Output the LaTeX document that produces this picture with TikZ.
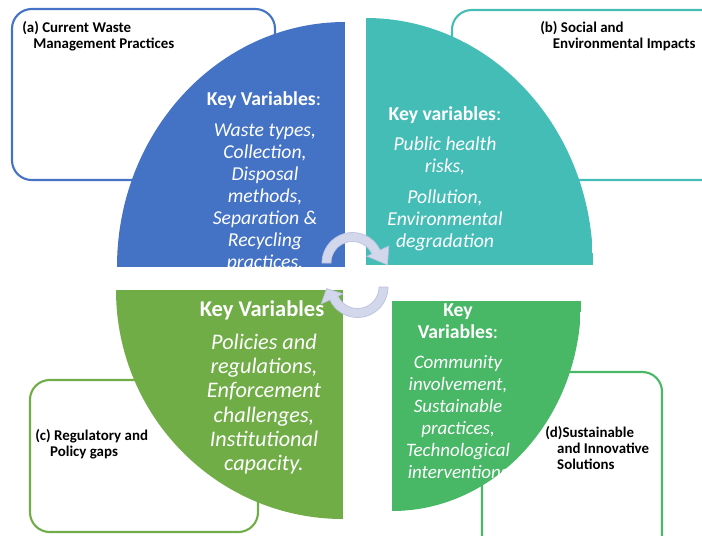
\documentclass[tikz,border=0pt]{standalone}
\usepackage{fontspec}
\setmainfont{Carlito}
\usepackage{tikz}

\definecolor{wasteblue}{HTML}{4472C4}
\definecolor{impactteal}{HTML}{44BDB6}
\definecolor{policygreen}{HTML}{70AD47}
\definecolor{solutiongreen}{HTML}{48B766}
\definecolor{cyclefill}{HTML}{D2D7EC}
\definecolor{cycledraw}{HTML}{BCC3E0}

\begin{document}
\begin{tikzpicture}[x=0.025cm, y=0.025cm,
  frame/.style={line width=1.5pt, rounded corners=14pt},
  keyhead/.style={text=white, font=\fontsize{14}{15.6}\selectfont, align=center, inner sep=0pt},
  keylist/.style={text=white, font=\fontsize{14}{15.6}\selectfont\itshape, align=center, inner sep=0pt},
  tag/.style={font=\fontsize{10.6}{11.2}\selectfont\bfseries, align=left, inner sep=0pt, anchor=west},
  cyclearrow/.style={fill=cyclefill, draw=cycledraw, line width=0.5pt}]
\useasboundingbox (0,0) rectangle (702,-535);

% outline boxes behind the quarters
\draw[frame, wasteblue] (12,-9) rectangle (275,-180);
\draw[frame, impactteal] (452,-10) rectangle (730,-180);
\draw[frame, policygreen] (30,-380) rectangle (258,-532);
\draw[frame, solutiongreen] (482,-372) rectangle (662,-560);

% (a) top left quarter
\begin{scope}
\clip (345,-267) -- (117,-267) arc[start angle=180, end angle=90, x radius=228, y radius=245] -- cycle;
\fill[wasteblue] (117,-22) rectangle (345,-267);
\node[keyhead] (headA) at (264,-100) {\textbf{Key Variables}:};
\node[keylist] (listA) at (265,-198) {Waste types,\\Collection,\\Disposal\\methods,\\Separation \&\\Recycling\\practices.};
\end{scope}

% (b) top right quarter
\begin{scope}
\clip (366,-265) -- (366,-18) arc[start angle=90, end angle=0, x radius=227, y radius=247] -- cycle;
\fill[impactteal] (366,-18) rectangle (593,-265);
\node[keyhead] (headB) at (445,-115) {\textbf{Key variables}:};
\node[keylist] (listB) at (445,-194) {Public health\\risks,\\[6.4pt]Pollution,\\Environmental\\degradation};
\end{scope}

% (c) bottom left quarter
\begin{scope}
\clip (343,-290) -- (343,-519) arc[start angle=270, end angle=180, x radius=227, y radius=229] -- cycle;
\fill[policygreen] (116,-290) rectangle (343,-519);
\node[keyhead, font=\fontsize{16}{17.3}\selectfont] (headC) at (262,-310) {\textbf{Key Variables}};
\node[keylist, font=\fontsize{15.8}{17.3}\selectfont\itshape] (listC) at (264,-404) {Policies and\\regulations,\\Enforcement\\challenges,\\Institutional\\capacity.};
\end{scope}

% (d) bottom right quarter
\begin{scope}
\clip (392,-301) -- (581,-301) arc[start angle=0, end angle=-90, x radius=189, y radius=210] -- cycle;
\fill[solutiongreen] (392,-301) rectangle (581,-511);
\node[keyhead] (headD) at (458,-321) {\textbf{Key}\\\textbf{Variables}:};
\node[keylist, font=\fontsize{13.5}{15.6}\selectfont\itshape] (listD) at (458,-417) {Community\\involvement,\\Sustainable\\practices,\\Technological\\interventions};
\end{scope}

\node[tag] (tagA) at (22,-36) {(a) Current Waste\\\hspace*{7.8pt}Management Practices};
\node[tag] (tagB) at (540,-36) {(b) Social and\\\hspace*{9pt}Environmental Impacts};
\node[tag] (tagC) at (35,-444) {(c) Regulatory and\\\hspace*{10.6pt}Policy gaps};
\node[tag] (tagD) at (545,-448) {(d)Sustainable\\\hspace*{8.5pt}and Innovative\\\hspace*{8.5pt}Solutions};

% circular arrows in the middle
\draw[cyclearrow] (322,-263) arc[start angle=180, end angle=25, radius=30.5]
  -- ([shift={(352.5,-263)}]25:40) -- ([shift={(352.5,-263)}]-3:35)
  -- ([shift={(352.5,-263)}]25:16) -- ([shift={(352.5,-263)}]25:21.5)
  arc[start angle=25, end angle=180, radius=21.5] -- cycle;
\draw[cyclearrow] (388,-287) arc[start angle=0, end angle=-155, radius=30.5]
  -- ([shift={(357.5,-287)}]205:40) -- ([shift={(357.5,-287)}]183:31)
  -- ([shift={(357.5,-287)}]205:16) -- ([shift={(357.5,-287)}]205:21.5)
  arc[start angle=-155, end angle=0, radius=21.5] -- cycle;
\end{tikzpicture}
\end{document}
